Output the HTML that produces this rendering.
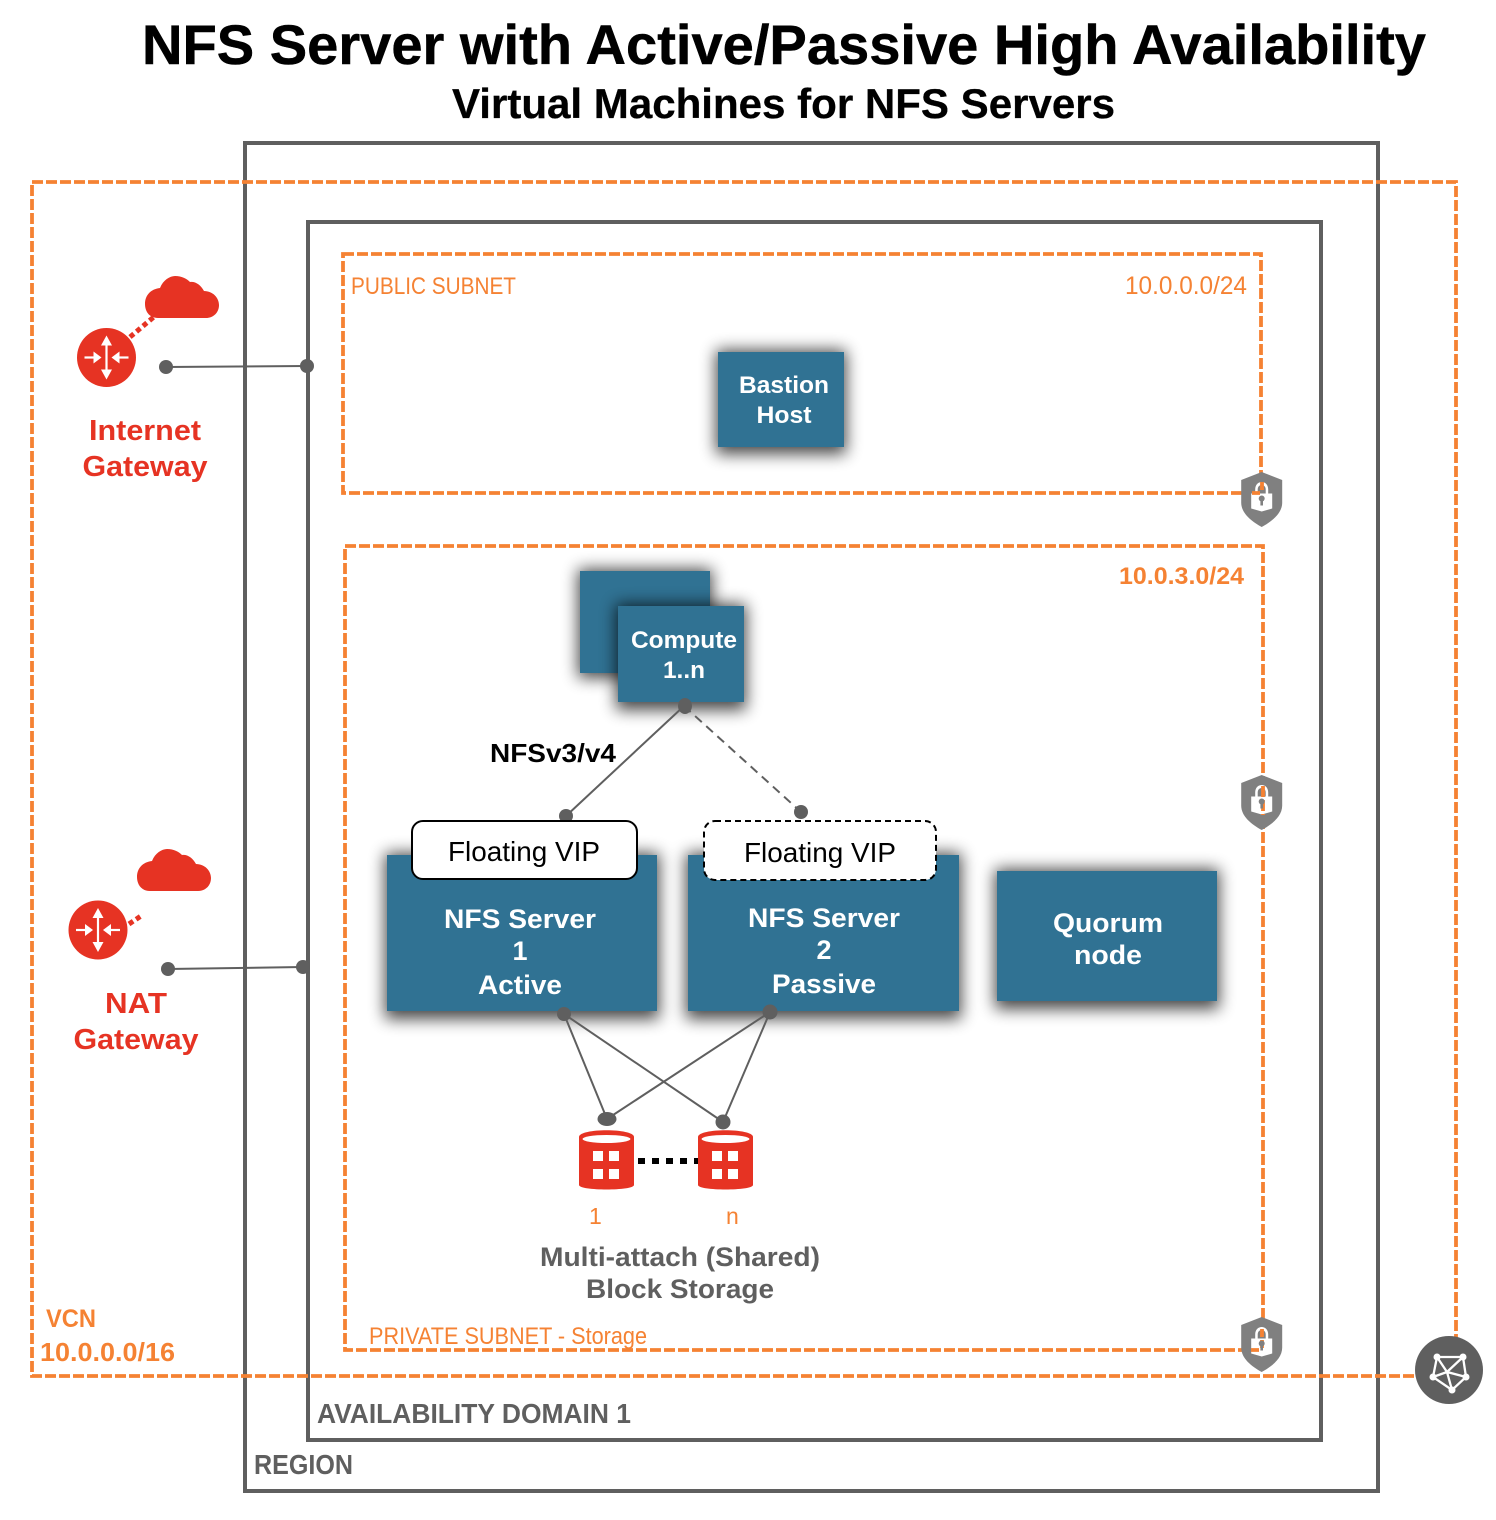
<!DOCTYPE html>
<html><head><meta charset="utf-8"><style>
html,body{margin:0;padding:0;background:#fff}
svg{display:block}
text{font-family:"Liberation Sans",sans-serif}
.b{font-weight:bold}
.w{fill:#fff;font-weight:bold;text-anchor:middle}
.o{fill:#f58233}
.r{fill:#e63323;font-weight:bold;text-anchor:middle;font-size:29px}
.g{fill:#5f5f5f;font-weight:bold}
</style></head><body>
<svg width="1496" height="1520" viewBox="0 0 1496 1520" xmlns="http://www.w3.org/2000/svg">
<defs>
<filter id="s" x="-40%" y="-40%" width="180%" height="180%"><feGaussianBlur stdDeviation="8"/></filter>
<g id="shield">
<path d="M0,-27.500 L20.500,-19.500 L20.500,3 C20.500,14 10,22 0,27.500 C-10,22 -20.500,14 -20.500,3 L-20.500,-19.500 Z" fill="#808080"/>
<path d="M-10.500,-6 L-6.500,-6 L-6.500,-10 C-6.500,-20 6.500,-20 6.500,-10 L6.500,-6 L10.500,-6 L10.500,9 L0,12 L-10.500,9 Z" fill="#fff"/>
<path d="M-4,-6 L-4,-10 C-4,-16 4,-16 4,-10 L4,-6 Z" fill="#808080"/>
</g>
<g id="key">
<circle cx="0" cy="-1" r="3" fill="#808080"/><rect x="-1.300" y="-1" width="2.600" height="7" fill="#808080"/>
</g>
<g id="router">
<circle r="29.500" fill="#e63323"/>
<g stroke="#fff" stroke-width="2.200" fill="#fff">
<line x1="0" y1="-18" x2="0" y2="18"/>
<line x1="-22" y1="0" x2="-8" y2="0"/>
<line x1="22" y1="0" x2="8" y2="0"/>
</g>
<g fill="#fff">
<polygon points="0,-22 -5.500,-12 5.500,-12"/><polygon points="0,22 -5.500,12 5.500,12"/>
<polygon points="-5,0 -13,-6 -13,6"/><polygon points="5,0 13,-6 13,6"/>
</g>
</g>
<path id="cloud" d="M13,42 C4,42 0,35 0,28 C0,19 6,13 15,12 C18,4 25,0 30,0 C37,0 42,3 45,6 C50,5 56,9 59,15 C68,15 74,22 74,29 C74,37 68,42 61,42 Z" fill="#e63323"/>
<g id="cyl">
<path d="M0,7 C0,-2 55,-2 55,7 L55,55 C55,61 0,61 0,55 Z" fill="#e63323"/>
<ellipse cx="27.500" cy="9" rx="24" ry="4" fill="#fff"/>
<rect x="14" y="21" width="10" height="10" fill="#fff"/><rect x="30" y="21" width="10" height="10" fill="#fff"/>
<rect x="14" y="39" width="10" height="10" fill="#fff"/><rect x="30" y="39" width="10" height="10" fill="#fff"/>
</g>
</defs>

<text class="b" x="142" y="64" font-size="56" textLength="1284" lengthAdjust="spacingAndGlyphs" stroke="#000" stroke-width=".5">NFS Server with Active/Passive High Availability</text>
<text class="b" x="452" y="118" font-size="42" textLength="663" lengthAdjust="spacingAndGlyphs" stroke="#000" stroke-width=".3">Virtual Machines for NFS Servers</text>

<!-- shadows -->
<g fill="#000" opacity=".72" filter="url(#s)">
<rect x="716" y="350" width="130" height="104"/>
<rect x="578" y="569" width="134" height="109"/>
<rect x="385" y="853" width="274" height="166"/>
<rect x="686" y="853" width="275" height="166"/>
<rect x="995" y="869" width="224" height="140"/>
</g>

<!-- frames -->
<g fill="none" stroke="#5f5f5f" stroke-width="4">
<rect x="245" y="143" width="1133" height="1348"/>
<rect x="308" y="222" width="1013" height="1218"/>
</g>
<g fill="none" stroke="#f58233" stroke-width="3.800" stroke-dasharray="11 3">
<rect x="32" y="182" width="1424" height="1194"/>
<rect x="343" y="254" width="918" height="239"/>
<rect x="345" y="546" width="918" height="804"/>
</g>

<!-- nodes -->
<g fill="#307293">
<rect x="718" y="352" width="126" height="95"/>
<rect x="580" y="571" width="130" height="102"/>
</g>
<rect x="616" y="604" width="130" height="106" fill="#000" opacity=".72" filter="url(#s)"/>
<g fill="#307293">
<rect x="618" y="606" width="126" height="96"/>
<rect x="387" y="855" width="270" height="156"/>
<rect x="688" y="855" width="271" height="156"/>
<rect x="997" y="871" width="220" height="130"/>
</g>

<g font-size="24">
<text class="w" x="784" y="393" textLength="90" lengthAdjust="spacingAndGlyphs">Bastion</text>
<text class="w" x="784" y="423" textLength="55" lengthAdjust="spacingAndGlyphs">Host</text>
<text class="w" x="684" y="648" textLength="106" lengthAdjust="spacingAndGlyphs">Compute</text>
<text class="w" x="684" y="678" textLength="42" lengthAdjust="spacingAndGlyphs">1..n</text>
</g>
<g font-size="27">
<text class="w" x="520" y="928" textLength="152" lengthAdjust="spacingAndGlyphs">NFS Server</text>
<text class="w" x="520" y="960">1</text>
<text class="w" x="520" y="994" textLength="84" lengthAdjust="spacingAndGlyphs">Active</text>
<text class="w" x="824" y="927" textLength="152" lengthAdjust="spacingAndGlyphs">NFS Server</text>
<text class="w" x="824" y="959">2</text>
<text class="w" x="824" y="993" textLength="104" lengthAdjust="spacingAndGlyphs">Passive</text>
<text class="w" x="1108" y="932" textLength="110" lengthAdjust="spacingAndGlyphs">Quorum</text>
<text class="w" x="1108" y="964" textLength="68" lengthAdjust="spacingAndGlyphs">node</text>
</g>

<!-- connectors -->
<g stroke="#5f5f5f" stroke-width="2" fill="none">
<line x1="166" y1="367" x2="307" y2="366"/>
<line x1="168" y1="969" x2="303" y2="967"/>
<line x1="684" y1="706" x2="566" y2="816"/>
<line x1="684" y1="706" x2="801" y2="812" stroke-dasharray="9 6"/>
<line x1="564" y1="1014" x2="607" y2="1119"/>
<line x1="564" y1="1014" x2="723" y2="1122"/>
<line x1="770" y1="1012" x2="607" y2="1119"/>
<line x1="770" y1="1012" x2="723" y2="1122"/>
</g>
<g fill="#5f5f5f">
<circle cx="166" cy="367" r="7"/><circle cx="307" cy="366" r="7"/>
<circle cx="168" cy="969" r="7"/><circle cx="303" cy="967" r="7"/>
<ellipse cx="685" cy="706" rx="7" ry="8"/>
<circle cx="566" cy="816" r="7"/><circle cx="801" cy="812" r="7"/>
<circle cx="564" cy="1014" r="7"/><circle cx="770" cy="1012" r="7.500"/>
<ellipse cx="607" cy="1119" rx="9.500" ry="7"/><circle cx="723" cy="1122" r="7.500"/>
</g>

<!-- VIPs -->
<rect x="412" y="821" width="225" height="58" rx="11" fill="#fff" stroke="#000" stroke-width="2"/>
<rect x="704" y="821" width="232" height="59" rx="11" fill="#fff" stroke="#000" stroke-width="2" stroke-dasharray="6 4"/>
<text x="524" y="861" font-size="28" text-anchor="middle" textLength="152" lengthAdjust="spacingAndGlyphs">Floating VIP</text>
<text x="820" y="862" font-size="28" text-anchor="middle" textLength="152" lengthAdjust="spacingAndGlyphs">Floating VIP</text>
<text class="b" x="490" y="762" font-size="26" textLength="126" lengthAdjust="spacingAndGlyphs">NFSv3/v4</text>

<!-- gateways -->
<use href="#cloud" x="145" y="276"/>
<use href="#router" x="106.500" y="357.500"/>
<line x1="130" y1="337" x2="155" y2="316" stroke="#e63323" stroke-width="5" stroke-dasharray="5 3.500"/>
<text class="r" x="145" y="440" textLength="112" lengthAdjust="spacingAndGlyphs">Internet</text>
<text class="r" x="145" y="476" textLength="125" lengthAdjust="spacingAndGlyphs">Gateway</text>
<use href="#cloud" x="137" y="849"/>
<use href="#router" x="98" y="930"/>
<line x1="129" y1="924" x2="141" y2="916" stroke="#e63323" stroke-width="5" stroke-dasharray="5 3.500"/>
<text class="r" x="136" y="1013" textLength="62" lengthAdjust="spacingAndGlyphs">NAT</text>
<text class="r" x="136" y="1049" textLength="125" lengthAdjust="spacingAndGlyphs">Gateway</text>

<!-- storage -->
<use href="#cyl" x="579" y="1130"/>
<use href="#cyl" x="698" y="1130"/>
<line x1="638" y1="1161" x2="698" y2="1161" stroke="#000" stroke-width="6" stroke-dasharray="7 7"/>
<text class="o" x="589" y="1224" font-size="23">1</text>
<text class="o" x="726" y="1224" font-size="23">n</text>
<text class="g" x="680" y="1266" font-size="27" text-anchor="middle" textLength="280" lengthAdjust="spacingAndGlyphs">Multi-attach (Shared)</text>
<text class="g" x="680" y="1298" font-size="27" text-anchor="middle" textLength="188" lengthAdjust="spacingAndGlyphs">Block Storage</text>

<!-- orange labels -->
<g class="o">
<text x="351" y="294" font-size="24" textLength="165" lengthAdjust="spacingAndGlyphs">PUBLIC SUBNET</text>
<text x="1125" y="294" font-size="25" textLength="122" lengthAdjust="spacingAndGlyphs">10.0.0.0/24</text>
<text x="1119" y="584" font-size="24" font-weight="bold" textLength="125" lengthAdjust="spacingAndGlyphs">10.0.3.0/24</text>
<text x="369" y="1344" font-size="24" textLength="278" lengthAdjust="spacingAndGlyphs">PRIVATE SUBNET - Storage</text>
<text x="46" y="1327" font-size="25" font-weight="bold" textLength="50" lengthAdjust="spacingAndGlyphs">VCN</text>
<text x="40" y="1361" font-size="26" font-weight="bold" textLength="135" lengthAdjust="spacingAndGlyphs">10.0.0.0/16</text>
</g>
<text class="g" x="317" y="1423" font-size="28" textLength="314" lengthAdjust="spacingAndGlyphs">AVAILABILITY DOMAIN 1</text>
<text class="g" x="254" y="1474" font-size="28" textLength="99" lengthAdjust="spacingAndGlyphs">REGION</text>

<!-- shields -->
<use href="#shield" x="1261.700" y="499.500"/>
<path d="M1262,482 V493 M1252,493 H1262" stroke="#f58233" stroke-width="3.800" fill="none" stroke-dasharray="8 3"/>
<use href="#key" x="1261.700" y="499.500"/>
<use href="#shield" x="1261.700" y="802.500"/>
<line x1="1263" y1="786" x2="1263" y2="815" stroke="#f58233" stroke-width="3.800" stroke-dasharray="11 3"/>
<use href="#key" x="1261.700" y="802.500"/>
<use href="#shield" x="1261.700" y="1344.500"/>
<path d="M1262,1329 V1350 M1251,1350 H1262" stroke="#f58233" stroke-width="3.800" fill="none" stroke-dasharray="8 3"/>
<use href="#key" x="1261.700" y="1344.500"/>

<!-- VCN icon -->
<circle cx="1449" cy="1370" r="34" fill="#5f5f5f"/>
<g stroke="#fff" stroke-width="2.300" fill="none">
<path d="M1437,1357 L1463,1357 L1466,1377 L1452,1390 L1433,1377 Z"/>
<path d="M1437,1357 L1447,1372 L1463,1357 M1433,1377 L1447,1372 L1466,1377 M1447,1372 L1452,1390"/>
</g>
<g fill="#fff">
<circle cx="1437" cy="1357" r="3.500"/><circle cx="1463" cy="1357" r="3.500"/><circle cx="1466" cy="1377" r="3.500"/><circle cx="1452" cy="1390" r="3.500"/><circle cx="1433" cy="1377" r="3.500"/>
</g>
</svg>
</body></html>
